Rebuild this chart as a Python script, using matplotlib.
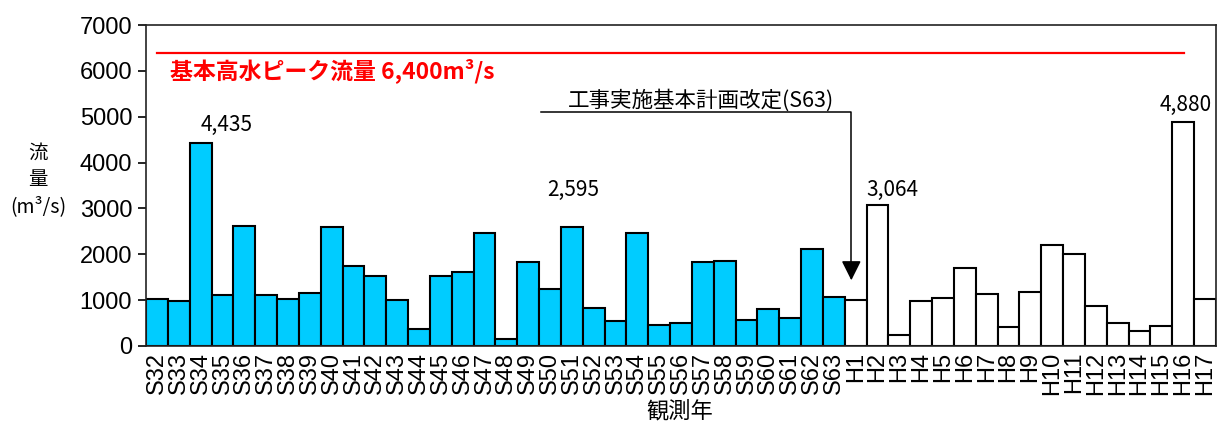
import matplotlib
matplotlib.use("Agg")
import matplotlib.pyplot as plt
import numpy as np

showa_years = [f"S{i}" for i in range(32, 64)]
heisei_years = [f"H{i}" for i in range(1, 18)]
categories = showa_years + heisei_years

showa_values = [1025, 981, 4435, 1112, 2617, 1105, 1033, 1163, 2595, 1738,
                1520, 996, 371, 1527, 1607, 2472, 146, 1832, 1236, 2595,
                829, 538, 2465, 466, 510, 1825, 1847, 575, 807, 611,
                2115, 1069]
heisei_values = [996, 3064, 248, 981, 1047, 1709, 1127, 423, 1178, 2210,
                 2006, 880, 510, 327, 445, 4880, 1025]
values = showa_values + heisei_values

plan_flow = 6400
labeled = {"S34": "4,435", "S51": "2,595", "H2": "3,064", "H16": "4,880"}

CJK = ['Noto Sans CJK JP', 'DejaVu Sans']
NARROW = ['Liberation Sans Narrow', 'Liberation Sans', 'DejaVu Sans']

fig = plt.figure(figsize=(12.17, 4.24), dpi=100)
ax = fig.add_axes([146/1217, 78/424, 1070/1217, 321/424])

x = np.arange(len(categories))
colors = ['#00CCFF'] * len(showa_years) + ['white'] * len(heisei_years)
ax.bar(x, values, width=1.0, color=colors, edgecolor='black', linewidth=1.5, zorder=2)

ax.set_xlim(-0.5, len(categories) - 0.5)
ax.set_ylim(0, 7000)
ax.set_yticks(range(0, 7001, 1000))
ax.set_xticks(x)
ax.set_xticklabels(categories, rotation=90, family=NARROW, fontsize=17)
for lbl in ax.get_yticklabels():
    lbl.set_family(NARROW)
    lbl.set_fontsize(17)
ax.tick_params(axis='x', length=0, pad=4)
ax.tick_params(axis='y', length=6, width=1.2, direction='out', pad=4)
for s in ax.spines.values():
    s.set_linewidth(1.2)
    s.set_color('#222222')

# design flood line
ax.axhline(plan_flow, xmin=11/1070, xmax=1038/1070, color='red', lw=1.6, zorder=3)
ax.text(0.6, 6010, "基本高水ピーク流量 6,400m³/s", color='red', fontsize=16.5,
        fontweight='bold', family=CJK, ha='left', va='center')

# value labels
idx = {c: i for i, c in enumerate(categories)}
ax.text(idx["S34"] + 1.2, values[idx["S34"]] + 380, labeled["S34"], family=CJK,
        fontsize=15, ha='center', va='center')
ax.text(idx["S51"] + 0.05, values[idx["S51"]] + 800, labeled["S51"], family=CJK,
        fontsize=15, ha='center', va='center')
ax.text(idx["H2"] - 0.5, values[idx["H2"]] + 330, labeled["H2"], family=CJK,
        fontsize=15, ha='left', va='center')
ax.text(idx["H16"] + 1.3, values[idx["H16"]] + 375, labeled["H16"], family=CJK,
        fontsize=15, ha='right', va='center')

# plan revision annotation
ax.text(24.9, 5360, "工事実施基本計画改定(S63)", family=CJK, fontsize=15.5,
        ha='center', va='center')
ax.plot([17.6, 31.8, 31.8], [5096, 5096, 1700], color='black', lw=1.1, zorder=4)
ax.annotate('', xy=(31.8, 1433), xytext=(31.8, 1800),
            arrowprops=dict(arrowstyle='-|>,head_length=0.6,head_width=0.3',
                            mutation_scale=20, color='black', lw=1.1,
                            shrinkA=0, shrinkB=0), zorder=4)

ax.set_xlabel("観測年", family=CJK, fontsize=16, va='center')
ax.xaxis.set_label_coords(0.499, -65/321)
fig.text(38/1217, 1 - 180/424, "流\n量\n(m³/s)", family=CJK, fontsize=14,
         ha='center', va='center', linespacing=1.35)

fig.savefig("out.png", dpi=100)
